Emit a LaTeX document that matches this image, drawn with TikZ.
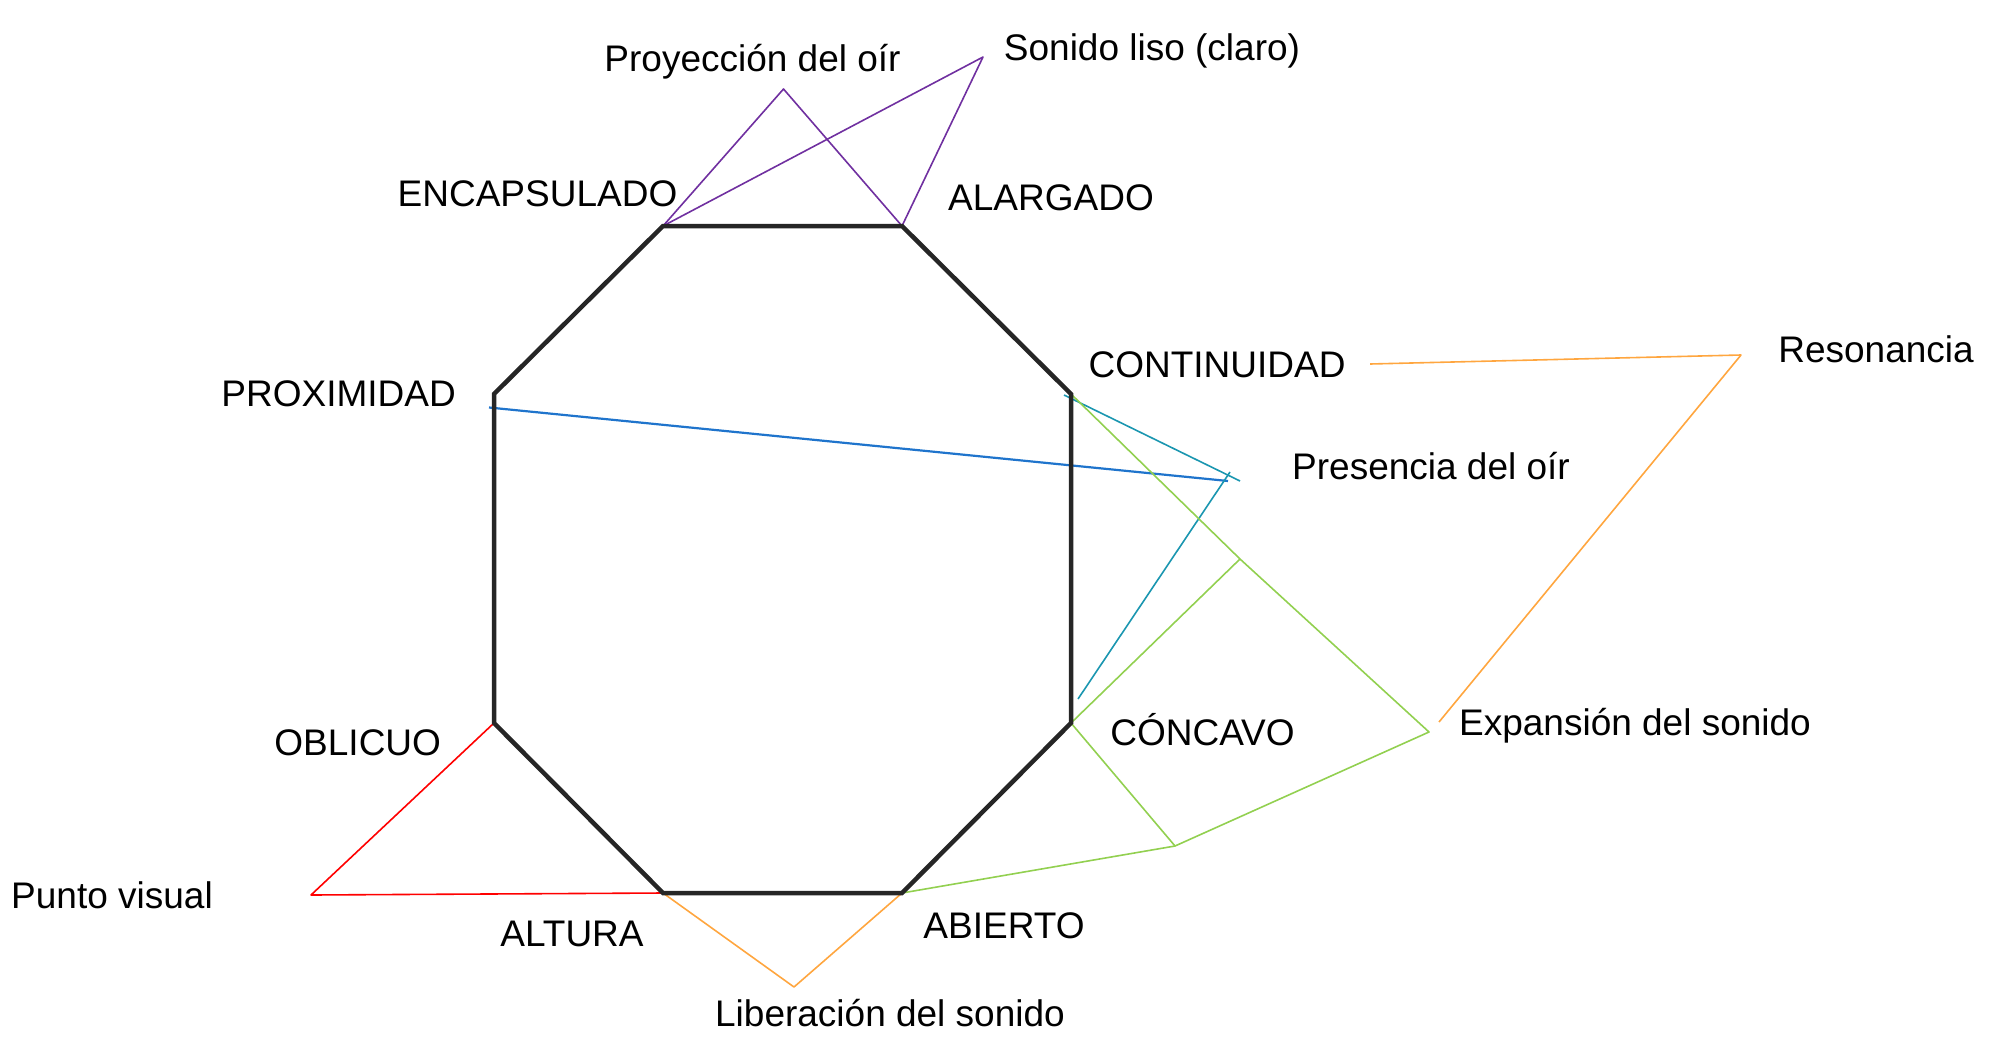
\documentclass[tikz,border=0pt]{standalone}
\usepackage{fontspec}
\setmainfont{Liberation Sans}
\definecolor{octa}{HTML}{262626}
\definecolor{cpurple}{HTML}{7030A0}
\definecolor{cblue}{HTML}{1F74CC}
\definecolor{cteal}{HTML}{1A96B0}
\definecolor{cgreen}{HTML}{92D050}
\definecolor{corange}{HTML}{FFA63F}
\definecolor{cred}{HTML}{FF0000}
\tikzset{
  lbl/.style={anchor=base, inner sep=0pt, font=\fontsize{37}{44}\selectfont},
  octaline/.style={draw=octa, line width=4.5pt, line join=miter},
  thin/.style={line width=1.6pt, line join=round},
}
\begin{document}
\begin{tikzpicture}[x=1pt,y=-1pt]
\useasboundingbox (0,0) rectangle (1996,1049);
% octagon vertices
\coordinate (vEnc) at (663,226);
\coordinate (vAla) at (902,226);
\coordinate (vCon) at (1071,394);
\coordinate (vCoc) at (1071,723);
\coordinate (vAbi) at (902,893);
\coordinate (vAlt) at (663,893);
\coordinate (vObl) at (494,723);
\coordinate (vPro) at (494,394);
% apexes
\coordinate (aProy) at (783.5,89);
\coordinate (aSon) at (983,57);
\coordinate (aPres) at (1240,481);
\coordinate (bPres) at (1230,472);
\coordinate (tPres) at (1064,395);
\coordinate (ePres) at (1078,699);
\coordinate (sProx) at (489,407.5);
\coordinate (eProx) at (1228,481);
\coordinate (gMid) at (1240,559);
\coordinate (aExp) at (1429,732);
\coordinate (gLow) at (1175,846);
\coordinate (sRes) at (1370,364);
\coordinate (aRes) at (1741,355);
\coordinate (eRes) at (1439,722);
\coordinate (aLib) at (794,987);
\coordinate (aPun) at (311,895);

% colored lines
\draw[thin, cpurple] (vEnc) -- (aProy) -- (vAla);
\draw[thin, cpurple] (vEnc) -- (aSon) -- (vAla);
\draw[line width=2.2pt, cblue] (sProx) -- (eProx);
\draw[thin, cteal] (tPres) -- (aPres);
\draw[thin, cteal] (bPres) -- (ePres);
\draw[thin, cgreen] (vCon) -- (gMid) -- (aExp) -- (gLow) -- (vAbi);
\draw[thin, cgreen] (vCoc) -- (gMid);
\draw[thin, cgreen] (vCoc) -- (gLow);
\draw[thin, corange] (sRes) -- (aRes) -- (eRes);
\draw[thin, corange] (vAlt) -- (aLib) -- (vAbi);
\draw[thin, cred] (vObl) -- (aPun) -- (vAlt);

% octagon
\draw[octaline] (vEnc) -- (vAla) -- (vCon) -- (vCoc) -- (vAbi) -- (vAlt) -- (vObl) -- (vPro) -- cycle;

% labels
\node[lbl] (tProy) at (752.5,71) {Proyección del oír};
\node[lbl] (tSon) at (1152,60) {Sonido liso (claro)};
\node[lbl] (tEnc) at (537.5,206) {ENCAPSULADO};
\node[lbl] (tAla) at (1051,210.5) {ALARGADO};
\node[lbl] (tPro) at (338.6,406) {PROXIMIDAD};
\node[lbl] (tCon) at (1217,377.5) {CONTINUIDAD};
\node[lbl] (tRes) at (1876,362) {Resonancia};
\node[lbl] (tPre) at (1431,479) {Presencia del oír};
\node[lbl] (tExp) at (1635,735) {Expansión del sonido};
\node[lbl] (tCoc) at (1202.5,745) {CÓNCAVO};
\node[lbl] (tObl) at (357.7,755) {OBLICUO};
\node[lbl] (tPun) at (112,908) {Punto visual};
\node[lbl] (tAlt) at (572,946) {ALTURA};
\node[lbl] (tAbi) at (1004,938) {ABIERTO};
\node[lbl] (tLib) at (890,1026) {Liberación del sonido};
\end{tikzpicture}
\end{document}
